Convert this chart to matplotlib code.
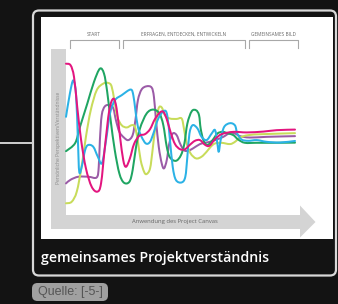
import numpy as np
import matplotlib
matplotlib.use("Agg")
import matplotlib.pyplot as plt
from matplotlib.path import Path
from matplotlib.patches import PathPatch, FancyBboxPatch, Rectangle, Polygon

# ---------------- data ----------------
phases = ["START", "ERFRAGEN, ENTDECKEN, ENTWICKELN", "GEMEINSAMES BILD"]
x_label = "Anwendung des Project Canvas"
y_label = "Persönliche Perspektiven/Verständnisse"
caption = "gemeinsames Projektverständnis"
source = "Quelle: [-5-]"

magenta_x = [0, 2.0, 3.5, 4.9, 6.6, 8.7, 11.2, 13.7, 15.3, 17.0, 18.9, 20.7, 22.1, 23.6, 25.0, 26.2,
             27.9, 29.7, 32.0, 34.5, 36.7, 38.8, 41.0, 42.5, 44.0, 45.7, 47.6, 49.8, 52.0, 54.1,
             56.3, 58.5, 60.7, 62.6, 65.1, 68.0, 73.1, 78.9, 86.2, 92.0, 100]
magenta_y = [98.8, 97.7, 89.5, 68.4, 45.0, 25.1, 12.2, 8.7, 14.5, 40.3, 66.0, 74.2, 67.2, 47.3, 30.9, 26.2,
             32.1, 42.2, 48.0, 49.2, 52.7, 59.7, 64.4, 64.9, 59.7, 50.4, 42.2, 38.6, 38.6, 41.7,
             44.5, 45.0, 41.7, 41.0, 45.7, 49.2, 50.8, 50.4, 51.0, 52.0, 52.4]

cyan_x = [0, 1.7, 3.2, 4.4, 5.2, 5.8, 7.0, 8.3, 9.6, 11.9, 13.9, 15.7, 17.5, 19.2, 21.4, 24.3, 28.2,
          29.4, 30.3, 31.4, 33.0, 34.9, 36.7, 38.4, 40.3, 42.8, 44.2, 45.4, 46.6, 48.0, 50.5, 52.1,
          53.0, 53.9, 55.3, 57.4, 59.2, 61.4, 63.6, 65.1, 66.1, 66.7, 67.5, 69.0, 71.6, 73.8, 74.8,
          76.7, 79.6, 83.3, 87.6, 93.4, 100]
cyan_y = [61.4, 77.8, 87.1, 76.6, 44.7, 22.5, 27.2, 37.7, 41.5, 40.3, 33.3, 28.8, 45.0, 63.7, 73.1, 76.6, 80.6,
          76.6, 66.0, 54.3, 47.3, 42.6, 43.8, 50.8, 60.2, 65.6, 62.5, 45.0, 26.2, 16.9, 15.2, 19.2,
          33.3, 49.6, 55.5, 53.2, 47.3, 45.0, 49.6, 52.0, 42.6, 36.8, 44.7, 54.1, 56.9, 55.3, 49.6,
          45.4, 44.5, 45.0, 43.8, 43.3, 44.4]

green_x = [0, 4.0, 6.1, 9.3, 12.2, 14.8, 16.6, 18.0, 19.5, 21.3, 23.3, 25.3, 27.7, 29.1, 30.6, 32.3,
           35.2, 38.1, 40.8, 42.5, 44.0, 45.4, 48.0, 50.2, 51.7, 53.0, 54.9, 56.8, 58.1, 58.8, 60.0,
           61.7, 64.0, 66.1, 68.4, 70.9, 73.1, 75.2, 78.1, 83.2, 89.1, 100]
green_y = [37.2, 42.9, 54.3, 70.7, 85.9, 95.3, 91.8, 78.9, 59.0, 37.9, 21.5, 15.0, 15.7, 23.9, 40.3, 53.2,
           63.7, 66.5, 63.7, 55.5, 40.3, 32.8, 30.4, 34.4, 42.6, 56.7, 65.3, 66.0, 62.5, 53.2, 45.0,
           41.5, 45.0, 49.6, 50.8, 49.6, 48.5, 45.4, 43.1, 43.1, 43.1, 43.2]

yellow_x = [0, 2.5, 4.7, 6.8, 8.7, 10.8, 13.4, 16.3, 18.5, 19.9, 21.1, 22.4, 24.3, 26.5, 28.7, 30.1,
            31.3, 32.6, 34.1, 35.2, 36.7, 37.8, 39.0, 40.4, 41.8, 43.2, 45.4, 48.3, 50.5, 51.5, 52.7,
            54.4, 56.8, 59.2, 61.4, 63.2, 65.0, 67.9, 71.6, 73.8, 76.0, 79.6, 86.2, 100]
yellow_y = [0.5, 1.6, 8.7, 26.2, 47.3, 66.0, 80.1, 84.8, 85.2, 82.9, 73.1, 61.4, 55.5, 53.9, 55.5, 54.3,
            45.0, 30.9, 22.7, 21.1, 25.0, 37.9, 54.3, 67.2, 68.0, 62.5, 60.2, 59.9, 60.2, 53.2, 42.6,
            35.6, 32.1, 33.3, 36.8, 40.3, 42.6, 43.1, 42.2, 43.8, 46.8, 48.5, 49.2, 49.9]

purple_x = [0, 2.0, 5.4, 9.8, 13.4, 14.3, 14.8, 15.6, 17.0, 19.2, 20.7, 21.8, 23.3, 25.3, 27.2, 29.1,
            30.3, 31.4, 33.0, 35.2, 37.4, 38.4, 39.3, 40.5, 41.8, 42.8, 44.0, 45.1, 46.6, 48.3, 49.8,
            51.5, 53.4, 55.6, 58.5, 60.7, 62.9, 65.8, 68.7, 71.6, 73.8, 76.0, 80.3, 87.6, 100]
purple_y = [14.5, 17.1, 19.2, 19.2, 18.7, 26.2, 45.0, 62.5, 68.8, 69.6, 67.2, 59.0, 50.8, 46.8, 45.0, 48.5,
            59.0, 73.1, 80.6, 82.9, 82.0, 75.4, 59.0, 40.3, 28.6, 25.1, 30.9, 42.6, 49.6, 48.5, 42.6,
            37.9, 37.5, 39.3, 42.2, 43.1, 43.8, 45.4, 47.3, 50.1, 49.6, 47.8, 46.8, 47.3, 47.8]

series = [
    (purple_x, purple_y, "#9b5ba7"),
    (yellow_x, yellow_y, "#c8dc5a"),
    (green_x, green_y, "#1fa562"),
    (cyan_x, cyan_y, "#2bb2e6"),
    (magenta_x, magenta_y, "#e3157f"),
]


def smooth_path(xs, ys):
    pts = np.column_stack([xs, ys]).astype(float)
    n = len(pts)
    verts = [pts[0]]
    codes = [Path.MOVETO]
    for i in range(n - 1):
        p0 = pts[i - 1] if i > 0 else pts[i]
        p1 = pts[i]
        p2 = pts[i + 1]
        p3 = pts[i + 2] if i + 2 < n else pts[i + 1]
        verts += [p1 + (p2 - p0) / 6.0, p2 - (p3 - p1) / 6.0, p2]
        codes += [Path.CURVE4] * 3
    return Path(verts, codes)


# ---------------- figure ----------------
W, H = 338, 304
fig = plt.figure(figsize=(W / 100, H / 100), dpi=100)
fig.patch.set_facecolor("#131313")

bg = fig.add_axes([0, 0, 1, 1])
bg.set_xlim(0, W)
bg.set_ylim(H, 0)
bg.axis("off")

# connector line
bg.plot([0, 33], [143, 143], color="#d0d0d0", lw=1.4, solid_capstyle="butt")

# card
bg.add_patch(FancyBboxPatch((33, 10.5), 303, 265, boxstyle="round,pad=0,rounding_size=6",
                            fc="#131313", ec="#d8d8d8", lw=1.6))
# white picture
bg.add_patch(Rectangle((41, 17), 292, 222, fc="white", ec="none"))

# gray axis bars + arrow
gray = "#d4d4d4"
bg.add_patch(Rectangle((51, 49), 15, 180, fc=gray, ec="none"))
bg.add_patch(Rectangle((51, 215), 249, 14, fc=gray, ec="none"))
bg.add_patch(Polygon([(300, 205.5), (315.5, 222), (300, 237.5)], closed=True, fc=gray, ec="none"))

bg.text(175, 222, x_label, ha="center", va="center", fontsize=4.2, color="#666666",
        family="Open Sans")
bg.text(58.5, 138, y_label, ha="center", va="center", rotation=90, fontsize=3.6,
        color="#8a8a8a", family="Open Sans")

# phase brackets
brackets = [(69.5, 118.5), (123, 244.5), (249, 297.5)]
for (a, b), name in zip(brackets, phases):
    bg.plot([a, a, b, b], [48, 40, 40, 48], color="#a8a8a8", lw=0.8)
    bg.text((a + b) / 2, 34, name, ha="center", va="center", fontsize=3.4,
            color="#666666", family="Open Sans")

# caption
bg.text(41, 258, caption, ha="left", va="center", fontsize=10.2, color="white",
        family="Open Sans", weight="semibold")

# source pill
bg.add_patch(FancyBboxPatch((32, 283), 76, 18, boxstyle="round,pad=0,rounding_size=5.5",
                            fc="#a0a0a0", ec="none"))
bg.text(70, 292.5, source, ha="center", va="center", fontsize=9, color="#555555",
        family="Liberation Sans")

# ---------------- line chart ----------------
ax = fig.add_axes([66 / W, (H - 204) / H, 229 / W, 142 / H])
ax.set_xlim(0, 100)
ax.set_ylim(0, 100)
ax.axis("off")
ax.patch.set_alpha(0)
for xs, ys, col in series:
    ax.add_patch(PathPatch(smooth_path(xs, ys), fc="none", ec=col, lw=1.45,
                           capstyle="round", joinstyle="round", clip_on=False))

fig.savefig("out.png", dpi=100, facecolor=fig.get_facecolor())
